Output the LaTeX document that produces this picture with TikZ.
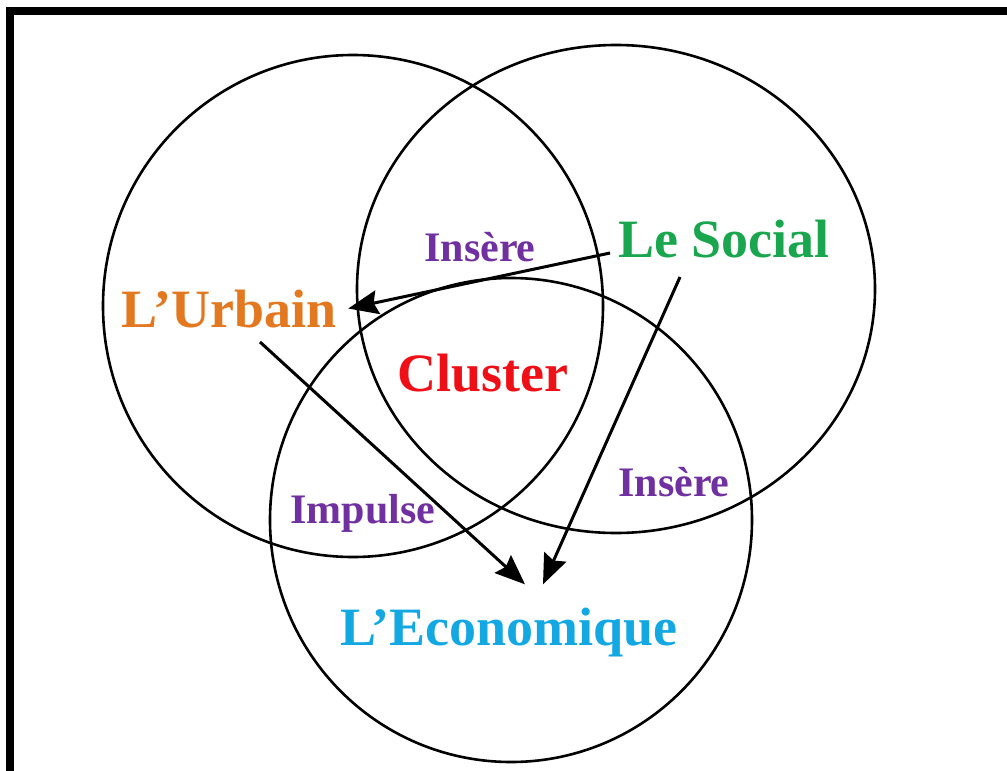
\documentclass[tikz,border=0pt]{standalone}
\usepackage{fontspec}
\setmainfont{Liberation Serif}
\usetikzlibrary{arrows.meta}
\begin{document}
\begin{tikzpicture}[x=1pt, y=-1pt,
        ring/.style={black, line width=2.6pt},
        link/.style={black, line width=3pt, -{Stealth[length=30pt, width=24pt, inset=4pt]}},
        bigword/.style={inner sep=0pt, anchor=base, font=\fontsize{54}{60}\selectfont\bfseries},
        smallword/.style={inner sep=0pt, anchor=base, text=violetLien, font=\fontsize{42}{48}\selectfont\bfseries}]
        \definecolor{orangeUrb}{RGB}{226, 120, 32}
        \definecolor{vertSoc}{RGB}{26, 166, 78}
        \definecolor{rougeClu}{RGB}{238, 16, 22}
        \definecolor{bleuEco}{RGB}{20, 168, 226}
        \definecolor{violetLien}{RGB}{112, 48, 160}
        \useasboundingbox (0,0) rectangle (1007,771);
        % cadre
        \fill[black] (6,7) rectangle (1007,15);
        \fill[black] (6,7) rectangle (14,771);
        % les trois cercles
        \draw[ring] (353,306) circle [x radius=250pt, y radius=251pt];
        \draw[ring] (616,289) circle [x radius=259pt, y radius=244pt];
        \draw[ring] (511,520) circle [x radius=241pt, y radius=242pt];
        % textes
        \node[bigword, text=orangeUrb] (urbain) at (229,327) {L’Urbain};
        \node[bigword, text=vertSoc] (social) at (724,257) {Le Social};
        \node[bigword, text=rougeClu] (cluster) at (483,391) {Cluster};
        \node[bigword, text=bleuEco] (economique) at (509,645) {L’Economique};
        \node[smallword] (insereA) at (480,261) {Insère};
        \node[smallword] (insereB) at (674,496) {Insère};
        \node[smallword] (impulse) at (363,523) {Impulse};
        % fleches
        \draw[link] ([xshift=-8pt, yshift=4pt]social.base west) -- ([xshift=12pt]urbain.east);
        \draw[link] ([xshift=31pt, yshift=-15pt]urbain.base) -- ([xshift=16pt, yshift=23pt]economique.north);
        \draw[link] ([xshift=-44pt, yshift=-20pt]social.base) -- ([xshift=34pt, yshift=23pt]economique.north);
\end{tikzpicture}
\end{document}
